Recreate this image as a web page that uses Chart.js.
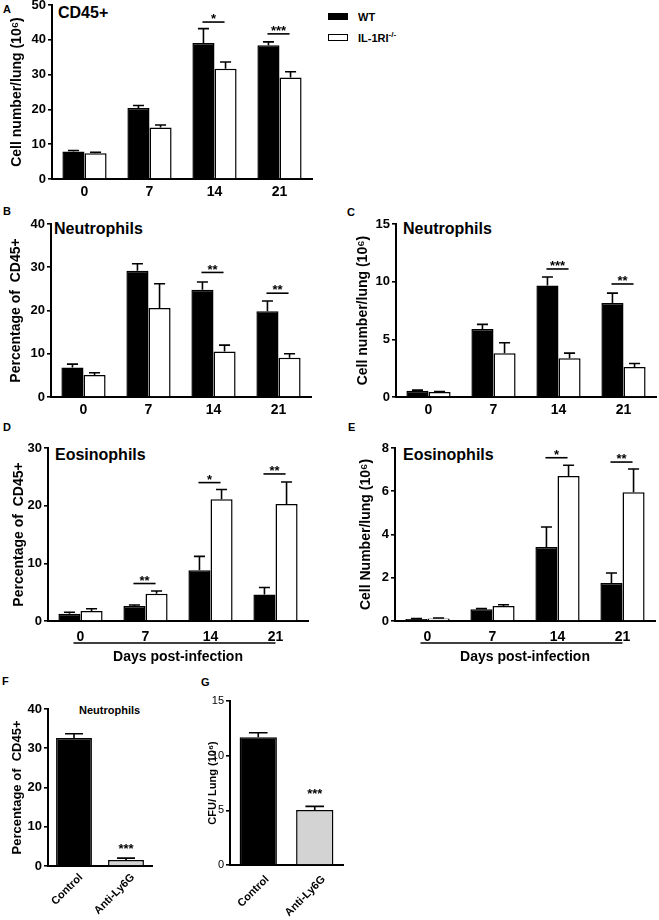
<!DOCTYPE html>
<html>
<head>
<meta charset="utf-8">
<script src="https://cdn.jsdelivr.net/npm/chart.js@4.4.1/dist/chart.umd.min.js"></script>
<style>
  body { margin: 0; background: #fff; width: 659px; height: 920px; position: relative; overflow: hidden;
         font-family: "Liberation Sans", Arial, sans-serif; color: #000; }
  canvas { position: absolute; }
  .txt { position: absolute; font-weight: bold; white-space: nowrap; }
  .letter { font-size: 11px; line-height: 11px; }
  .head { font-size: 16px; line-height: 16px; }
  .box { position: absolute; box-sizing: border-box; }
  sup { font-size: 8px; vertical-align: 5px; line-height: 0; }
</style>
</head>
<body>
<!-- panel letters -->
<div class="txt letter" style="left:3px;top:3.6px">A</div>
<div class="txt letter" style="left:3px;top:205.6px">B</div>
<div class="txt letter" style="left:347px;top:206.6px">C</div>
<div class="txt letter" style="left:3px;top:421.6px">D</div>
<div class="txt letter" style="left:348px;top:421.6px">E</div>
<div class="txt letter" style="left:2px;top:675.6px">F</div>
<div class="txt letter" style="left:201px;top:676.6px">G</div>

<!-- panel headings -->
<div class="txt head" style="left:58px;top:4.7px">CD45+</div>
<div class="txt head" style="left:54px;top:220.5px">Neutrophils</div>
<div class="txt head" style="left:403px;top:220.5px">Neutrophils</div>
<div class="txt head" style="left:55px;top:447px">Eosinophils</div>
<div class="txt head" style="left:403px;top:447px">Eosinophils</div>
<div class="txt" style="left:79px;top:704.6px;font-size:11px;line-height:11px">Neutrophils</div>

<!-- legend -->
<div class="box" style="left:328px;top:13px;width:20px;height:7px;background:#000"></div>
<div class="txt" style="left:358px;top:11.6px;font-size:11px;line-height:11px">WT</div>
<div class="box" style="left:328px;top:34px;width:20px;height:7px;border:1.5px solid #000"></div>
<div class="txt" style="left:358px;top:32.6px;font-size:11px;line-height:11px">IL-1RI<sup>-/-</sup></div>

<canvas id="cA"></canvas>
<canvas id="cB"></canvas>
<canvas id="cC"></canvas>
<canvas id="cD"></canvas>
<canvas id="cE"></canvas>
<canvas id="cF"></canvas>
<canvas id="cG"></canvas>

<script>
// ---- data ----
const days = ["0", "7", "14", "21"];
const treatments = ["Control", "Anti-Ly6G"];

// A: CD45+ cells/lung (10^6)
const cd45Wt = [7.9, 20.4, 39.1, 38.4];
const cd45WtSem = [0.3, 0.7, 4.1, 1.0];
const cd45Il = [7.4, 14.8, 31.7, 29.2];
const cd45IlSem = [0.3, 0.7, 1.9, 1.6];
const cd45Ticks = [0, 10, 20, 30, 40, 50];
const cd45Sig = [{ i: 2, y: 45.1, text: "*" }, { i: 3, y: 41.7, text: "***" }];

// B: neutrophils, % of CD45+
const neuPctWt = [6.8, 29.2, 24.8, 19.8];
const neuPctWtSem = [0.8, 1.6, 1.8, 2.4];
const neuPctIl = [5.1, 20.6, 10.5, 9.1];
const neuPctIlSem = [0.5, 5.6, 1.5, 0.9];
const neuPctTicks = [0, 10, 20, 30, 40];
const neuPctSig = [{ i: 2, y: 28.8, text: "**" }, { i: 3, y: 24.0, text: "**" }];

// C: neutrophils/lung (10^6)
const neuNumWt = [0.55, 5.9, 9.66, 8.16];
const neuNumWtSem = [0.05, 0.4, 0.75, 0.85];
const neuNumIl = [0.43, 3.8, 3.35, 2.6];
const neuNumIlSem = [0.05, 0.9, 0.45, 0.3];
const neuNumTicks = [0, 5, 10, 15];
const neuNumSig = [{ i: 2, y: 11.1, text: "***" }, { i: 3, y: 9.8, text: "**" }];

// D: eosinophils, % of CD45+
const eosPctWt = [1.27, 2.6, 8.8, 4.6];
const eosPctWtSem = [0.25, 0.17, 2.4, 1.2];
const eosPctIl = [1.73, 4.74, 21.1, 20.3];
const eosPctIlSem = [0.4, 0.45, 1.7, 3.8];
const eosPctTicks = [0, 10, 20, 30];
const eosPctSig = [{ i: 1, y: 6.5, text: "**" }, { i: 2, y: 24.0, text: "*" }, { i: 3, y: 25.5, text: "**" }];

// E: eosinophils/lung (10^6)
const eosNumWt = [0.09, 0.54, 3.42, 1.76];
const eosNumWtSem = [0.02, 0.03, 0.93, 0.46];
const eosNumIl = [0.12, 0.69, 6.7, 5.95];
const eosNumIlSem = [0.02, 0.06, 0.5, 1.08];
const eosNumTicks = [0, 2, 4, 6, 8];
const eosNumSig = [{ i: 2, y: 7.55, text: "*" }, { i: 3, y: 7.35, text: "**" }];

// F: neutrophils after depletion, % of CD45+
const depNeu = [32.6, 1.5];
const depNeuSem = [1.1, 0.5];
const depNeuTicks = [0, 10, 20, 30, 40];
const depNeuSig = [{ i: 1, y: 3.6, text: "***" }];

// G: CFU/lung (10^6)
const depCfu = [11.68, 5.02];
const depCfuSem = [0.42, 0.34];
const depCfuTicks = [0, 5, 10, 15];
const depCfuSig = [{ i: 1, y: 6.2, text: "***" }];

Chart.defaults.font.family = "'Liberation Sans', Arial, sans-serif";
Chart.defaults.color = "#000";

// upward SEM bars
const errorBars = {
  id: "errorBars",
  afterDatasetsDraw(chart) {
    const ctx = chart.ctx;
    const y = chart.scales.y;
    chart.data.datasets.forEach((ds, di) => {
      chart.getDatasetMeta(di).data.forEach((bar, i) => {
        const top = y.getPixelForValue(ds.data[i] + ds.sem[i]);
        const half = bar.width / 4;
        ctx.save();
        ctx.strokeStyle = "#000";
        ctx.lineWidth = 1.6;
        ctx.beginPath();
        ctx.moveTo(bar.x, bar.y);
        ctx.lineTo(bar.x, top);
        ctx.moveTo(bar.x - half, top);
        ctx.lineTo(bar.x + half, top);
        ctx.stroke();
        ctx.restore();
      });
    });
  },
};
Chart.register(errorBars);

// stars (with a bar between the two groups when withLine)
const sigMarks = (marks, withLine, size) => ({
  id: "sigMarks",
  afterDatasetsDraw(chart) {
    const ctx = chart.ctx;
    const y = chart.scales.y;
    const first = chart.getDatasetMeta(0).data;
    const last = chart.getDatasetMeta(chart.data.datasets.length - 1).data;
    ctx.save();
    ctx.strokeStyle = "#000";
    ctx.fillStyle = "#000";
    ctx.lineWidth = 1.6;
    ctx.font = "bold " + size + "px 'Liberation Sans', Arial, sans-serif";
    ctx.textAlign = "center";
    ctx.textBaseline = "bottom";
    marks.forEach((m) => {
      const yy = y.getPixelForValue(m.y);
      let cx = first[m.i].x;
      if (withLine) {
        const x0 = first[m.i].x - 1;
        const x1 = last[m.i].x - 1;
        ctx.beginPath();
        ctx.moveTo(x0, yy);
        ctx.lineTo(x1, yy);
        ctx.stroke();
        cx = (x0 + x1) / 2;
      }
      ctx.fillText(m.text, cx, yy + 4);
    });
    ctx.restore();
  },
});

// line between the day labels and "Days post-infection"
const daysLine = {
  id: "daysLine",
  afterDraw(chart) {
    const ctx = chart.ctx;
    const x = chart.scales.x;
    const yy = chart.chartArea.bottom + 22;
    ctx.save();
    ctx.strokeStyle = "#000";
    ctx.lineWidth = 1.5;
    ctx.beginPath();
    ctx.moveTo(x.getPixelForValue(0) - 7, yy);
    ctx.lineTo(x.getPixelForValue(3), yy);
    ctx.stroke();
    ctx.restore();
  },
};

const makePanel = (id, box, opts) => {
  const canvas = document.getElementById(id);
  canvas.width = box.w;
  canvas.height = box.h;
  canvas.style.left = box.x + "px";
  canvas.style.top = box.y + "px";

  const ticks = opts.yTicks;
  new Chart(canvas.getContext("2d"), {
    type: "bar",
    data: { labels: opts.labels, datasets: opts.datasets },
    options: {
      responsive: false,
      maintainAspectRatio: false,
      animation: false,
      devicePixelRatio: 1,
      layout: { padding: { top: box.padTop, right: box.padRight, left: 0, bottom: 0 } },
      plugins: { legend: { display: false }, tooltip: { enabled: false } },
      datasets: { bar: { categoryPercentage: opts.catPct, barPercentage: 1 } },
      scales: {
        x: {
          grid: { display: true, drawOnChartArea: false, drawTicks: false },
          border: { display: true, color: "#000", width: 2 },
          ticks: {
            padding: opts.xPad,
            labelOffset: opts.xShift || 0,
            autoSkip: false,
            maxRotation: opts.rot || 0,
            minRotation: opts.rot || 0,
            font: opts.xFont,
          },
          title: opts.xTitle
            ? { display: true, text: opts.xTitle, font: { size: 14, weight: "bold" }, padding: { top: 0, bottom: 1.6 } }
            : { display: false },
          afterFit: (s) => { s.height = box.xh; },
        },
        y: {
          min: ticks[0],
          max: ticks[ticks.length - 1],
          grid: { display: true, drawOnChartArea: false, drawTicks: true, tickLength: 4, color: "#000", lineWidth: 1.6 },
          border: { display: true, color: "#000", width: 2 },
          ticks: { stepSize: ticks[1] - ticks[0], padding: 2, font: opts.yFont },
          title: {
            display: true,
            text: opts.yTitle,
            font: opts.yTitleFont,
            padding: { top: box.titlePad, bottom: 0 },
          },
          afterFit: (s) => { s.width = box.yw; },
        },
      },
    },
    plugins: opts.plugins,
  });
};

const pair = (wt, wtSem, il, ilSem) => [
  { label: "WT", data: wt, sem: wtSem, backgroundColor: "#000", borderColor: "#000", borderWidth: 1.5 },
  { label: "IL-1RI-/-", data: il, sem: ilSem, backgroundColor: "#fff", borderColor: "#000", borderWidth: 1.5 },
];

const boldTick = (size) => ({ size: size, weight: "bold" });
const yTitleBig = { size: 14, weight: "bold" };

makePanel("cA", { x: 0, y: -15, w: 330, h: 219, yw: 52, xh: 25, padTop: 20, padRight: 18, titlePad: 8.6 }, {
  labels: days, datasets: pair(cd45Wt, cd45WtSem, cd45Il, cd45IlSem), yTicks: cd45Ticks, catPct: 0.68,
  yTitle: "Cell number/lung (10⁶)", yTitleFont: yTitleBig, yFont: boldTick(13), xFont: boldTick(14), xPad: 5,
  plugins: [sigMarks(cd45Sig, true, 13)],
});

makePanel("cB", { x: 0, y: 204, w: 330, h: 218, yw: 51, xh: 25, padTop: 20, padRight: 19, titlePad: 8.1 }, {
  labels: days, datasets: pair(neuPctWt, neuPctWtSem, neuPctIl, neuPctIlSem), yTicks: neuPctTicks, catPct: 0.68,
  yTitle: "Percentage of  CD45+", yTitleFont: yTitleBig, yFont: boldTick(13), xFont: boldTick(14), xPad: 5,
  plugins: [sigMarks(neuPctSig, true, 13)],
});

makePanel("cC", { x: 344, y: 204, w: 315, h: 218, yw: 52, xh: 25, padTop: 20, padRight: 3, titlePad: 10.6 }, {
  labels: days, datasets: pair(neuNumWt, neuNumWtSem, neuNumIl, neuNumIlSem), yTicks: neuNumTicks, catPct: 0.68,
  yTitle: "Cell number/lung (10⁶)", yTitleFont: yTitleBig, yFont: boldTick(13), xFont: boldTick(14), xPad: 5,
  plugins: [sigMarks(neuNumSig, true, 13)],
});

makePanel("cD", { x: 0, y: 428, w: 330, h: 239, yw: 48, xh: 46, padTop: 20, padRight: 22, titlePad: 10.6 }, {
  labels: days, datasets: pair(eosPctWt, eosPctWtSem, eosPctIl, eosPctIlSem), yTicks: eosPctTicks, catPct: 0.68,
  yTitle: "Percentage of  CD45+", yTitleFont: yTitleBig, yFont: boldTick(13), xFont: boldTick(14), xPad: 8,
  xTitle: "Days post-infection",
  plugins: [sigMarks(eosPctSig, true, 13), daysLine],
});

makePanel("cE", { x: 343, y: 428, w: 316, h: 239, yw: 52, xh: 46, padTop: 20, padRight: 4, titlePad: 14.6 }, {
  labels: days, datasets: pair(eosNumWt, eosNumWtSem, eosNumIl, eosNumIlSem), yTicks: eosNumTicks, catPct: 0.68,
  yTitle: "Cell Number/lung (10⁶)", yTitleFont: yTitleBig, yFont: boldTick(13), xFont: boldTick(14), xPad: 8,
  xTitle: "Days post-infection",
  plugins: [sigMarks(eosNumSig, true, 13), daysLine],
});

makePanel("cF", { x: 0, y: 689, w: 170, h: 231, yw: 48, xh: 54, padTop: 20, padRight: 18, titlePad: 9.2 }, {
  labels: treatments,
  datasets: [{ data: depNeu, sem: depNeuSem, backgroundColor: ["#000", "#d3d3d3"], borderColor: "#000", borderWidth: 1.5 }],
  yTicks: depNeuTicks, catPct: 0.69,
  yTitle: "Percentage of  CD45+", yTitleFont: { size: 13, weight: "bold" }, yFont: boldTick(13), xFont: boldTick(11),
  xPad: 5, xShift: 7, rot: 45,
  plugins: [sigMarks(depNeuSig, false, 13)],
});

makePanel("cG", { x: 180, y: 681, w: 170, h: 239, yw: 50, xh: 55, padTop: 20, padRight: 7, titlePad: 26.4 }, {
  labels: treatments,
  datasets: [{ data: depCfu, sem: depCfuSem, backgroundColor: ["#000", "#d3d3d3"], borderColor: "#000", borderWidth: 1.5 }],
  yTicks: depCfuTicks, catPct: 0.66,
  yTitle: "CFU/ Lung (10⁶)", yTitleFont: { size: 11, weight: "bold" }, yFont: { size: 11 }, xFont: boldTick(11),
  xPad: 8, xShift: 9, rot: 45,
  plugins: [sigMarks(depCfuSig, false, 13)],
});
</script>
</body>
</html>
